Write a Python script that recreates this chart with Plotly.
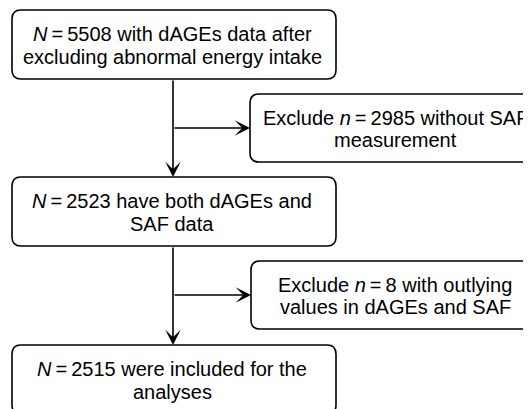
import plotly.graph_objects as go

# ---- data ----
main_labels = [
    "<i>N</i>\u2009=\u20095508 with dAGEs data after<br>excluding abnormal energy intake",
    "<i>N</i>\u2009=\u20092523 have both dAGEs and<br>SAF data",
    "<i>N</i>\u2009=\u20092515 were included for the<br>analyses",
]
excl_labels = [
    "Exclude <i>n</i>\u2009=\u20092985 without SAF<br>measurement",
    "Exclude <i>n</i>\u2009=\u20098 with outlying<br>values in dAGEs and SAF",
]

# ---- layout geometry (page pixels, y downward) ----
W, H = 531, 409
PAGE_MARGIN = 8          # default body margin of the html page
main_boxes = [(12, 10, 336, 79), (12, 177, 336, 246), (12, 345, 336, 414)]
excl_boxes = [(250, 94, 540, 162), (251, 261, 540, 329)]
main_text_x = 172
excl_text_x = 395
spine_x = 173
R = 9
LW = 1.6
PITCH = 22.6
FONT = dict(family="Arial, Liberation Sans, sans-serif", size=20, color="black")


def rrect(x0, y0, x1, y1, r=R):
    return (f"M{x0+r},{y0} L{x1-r},{y0} Q{x1},{y0} {x1},{y0+r} "
            f"L{x1},{y1-r} Q{x1},{y1} {x1-r},{y1} L{x0+r},{y1} "
            f"Q{x0},{y1} {x0},{y1-r} L{x0},{y0+r} Q{x0},{y0} {x0+r},{y0} Z")


fig = go.Figure()
shapes = []
annotations = []

for (x0, y0, x1, y1) in main_boxes + excl_boxes:
    shapes.append(dict(type="path", path=rrect(x0, y0, x1, y1), xref="x", yref="y",
                       line=dict(color="black", width=LW), fillcolor="white"))


def add_text(xc, yc, label):
    lines = label.split("<br>")
    n = len(lines)
    for i, ln in enumerate(lines):
        y = yc + 1 + (i - (n - 1) / 2) * PITCH
        annotations.append(dict(x=xc, y=y, text=ln, showarrow=False, font=FONT,
                                xref="x", yref="y", xanchor="center", yanchor="middle"))


for (x0, y0, x1, y1), lab in zip(main_boxes, main_labels):
    add_text(main_text_x, y0 + 34.5, lab)

for (x0, y0, x1, y1), lab in zip(excl_boxes, excl_labels):
    add_text(excl_text_x, (y0 + y1) / 2, lab)

ah = dict(showarrow=True, arrowhead=3, arrowsize=1.6, arrowwidth=LW, arrowcolor="black",
          standoff=0, startstandoff=0, text="", xref="x", yref="y", axref="x", ayref="y")

# vertical arrows between main boxes
for a, b in zip(main_boxes[:-1], main_boxes[1:]):
    annotations.append(dict(x=spine_x, y=b[1], ax=spine_x, ay=a[3], **ah))

# horizontal arrows to exclusion boxes
for e in excl_boxes:
    yc = (e[1] + e[3]) / 2
    annotations.append(dict(x=e[0], y=yc, ax=spine_x, ay=yc, **ah))

fig.update_layout(
    width=W - PAGE_MARGIN, height=H - PAGE_MARGIN, margin=dict(l=0, r=0, t=0, b=0),
    paper_bgcolor="white", plot_bgcolor="white",
    xaxis=dict(range=[PAGE_MARGIN, W], visible=False, fixedrange=True),
    yaxis=dict(range=[H, PAGE_MARGIN], visible=False, fixedrange=True),
    shapes=shapes, annotations=annotations, showlegend=False,
)

fig.write_html("out.html")
